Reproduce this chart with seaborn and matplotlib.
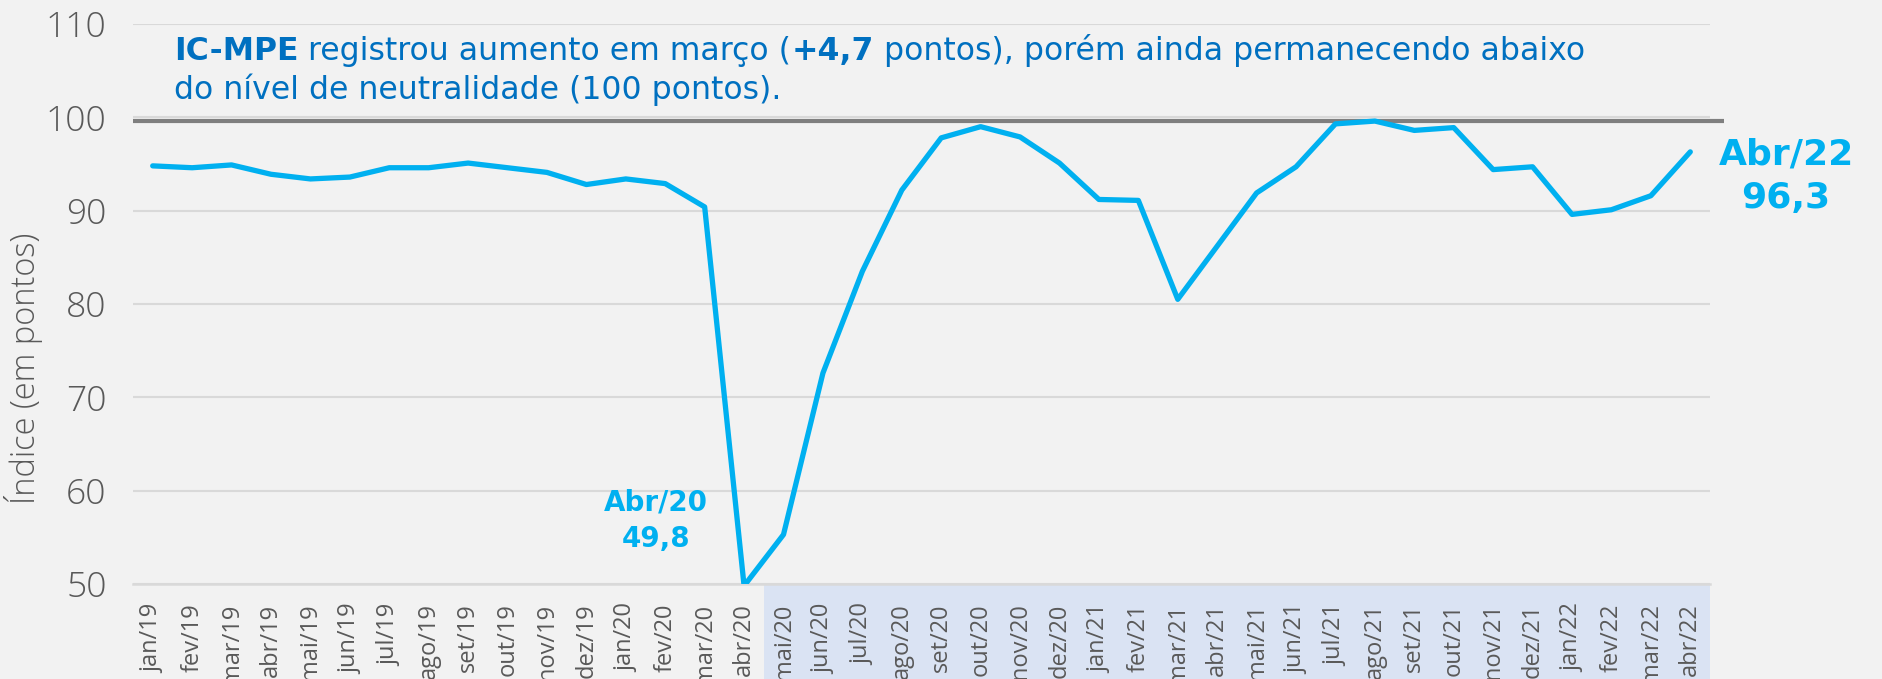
import matplotlib
matplotlib.use("Agg")
import matplotlib.pyplot as plt
import matplotlib.transforms as mtransforms
from matplotlib.patches import Rectangle
import seaborn as sns
import pandas as pd
import numpy as np

# ---------------- data ----------------
months = ["jan/19", "fev/19", "mar/19", "abr/19", "mai/19", "jun/19", "jul/19", "ago/19",
          "set/19", "out/19", "nov/19", "dez/19", "jan/20", "fev/20", "mar/20", "abr/20",
          "mai/20", "jun/20", "jul/20", "ago/20", "set/20", "out/20", "nov/20", "dez/20",
          "jan/21", "fev/21", "mar/21", "abr/21", "mai/21", "jun/21", "jul/21", "ago/21",
          "set/21", "out/21", "nov/21", "dez/21", "jan/22", "fev/22", "mar/22", "abr/22"]
ic_mpe = [94.8, 94.6, 94.9, 93.9, 93.4, 93.6, 94.6, 94.6,
          95.1, 94.6, 94.1, 92.8, 93.4, 92.9, 90.4, 49.8,
          55.3, 72.6, 83.5, 92.2, 97.8, 99.0, 97.9, 95.1,
          91.2, 91.1, 80.5, 86.2, 91.9, 94.7, 99.3, 99.6,
          98.6, 98.9, 94.4, 94.7, 89.6, 90.1, 91.6, 96.3]
y_ticks = [50, 60, 70, 80, 90, 100, 110]
neutral_level = 99.6
highlight_start = "mai/20"
y_label = "Índice (em pontos)"
title_line1 = [("IC-MPE", "bold"), (" registrou aumento em março (", "normal"),
               ("+4,7", "bold"), (" pontos), porém ainda permanecendo abaixo", "normal")]
title_line2 = "do nível de neutralidade (100 pontos)."
ann_min = "Abr/20\n49,8"
ann_last = "Abr/22\n96,3"

# ---------------- style ----------------
BG = "#f2f2f2"
LINE = "#00b0f0"
GRID = "#d9d9d9"
TXT = "#595959"
TITLE = "#0070c0"
SHADE = "#dae3f3"
WIDE = ["DejaVu Sans"]

sns.set_theme(style="white")
plt.rcParams["font.family"] = ["Open Sans", "DejaVu Sans"]

W, H = 1882, 679
fig = plt.figure(figsize=(W / 100, H / 100), dpi=100, facecolor=BG)
ax = fig.add_axes([133 / W, 1 - 584 / H, (1710 - 133) / W, (584 - 24) / H])
ax.set_facecolor(BG)

df = pd.DataFrame({"x": np.arange(len(months)), "v": ic_mpe})
sns.lineplot(data=df, x="x", y="v", ax=ax, color=LINE, linewidth=3.8,
             solid_capstyle="round", zorder=5)

ax.set_xlim(-0.5, len(months) - 0.5)
ax.set_ylim(min(y_ticks), max(y_ticks))
ax.set_yticks(y_ticks)
ax.set_yticklabels([str(t) for t in y_ticks], fontsize=25.5, color=TXT, fontweight="light")
ax.tick_params(axis="y", length=0, pad=19)

ax.set_xticks(np.arange(len(months)))
ax.set_xticklabels(months, rotation=90, fontsize=17, color=TXT, va="top")
ax.set_xticks(np.arange(len(months) + 1) - 0.5, minor=True)
ax.tick_params(axis="x", which="major", length=0, pad=14)
ax.tick_params(axis="x", which="minor", length=8, width=1.2, color=GRID)

ax.yaxis.grid(True, color=GRID, linewidth=1.5)
ax.xaxis.grid(False)
for s in ["top", "right", "left"]:
    ax.spines[s].set_visible(False)
ax.spines["bottom"].set_color(GRID)
ax.spines["bottom"].set_linewidth(1.8)
ax.spines["bottom"].set_zorder(1)

ax.set_xlabel("")
ax.set_ylabel(y_label, fontsize=23.5, color=TXT, fontweight="light")
ax.yaxis.set_label_coords(-0.057, 0.386)

# neutral line extending slightly past the axes
ax.plot([-0.5, len(months) - 0.15], [neutral_level, neutral_level], color="#7f7f7f",
        linewidth=3, clip_on=False, zorder=4, solid_capstyle="butt")

# shaded band under the axis for the highlighted period
trans = mtransforms.blended_transform_factory(ax.transData, ax.transAxes)
i0 = months.index(highlight_start) - 0.5
ax.add_patch(Rectangle((i0, 0), len(months) - 0.5 - i0, -0.2, transform=trans,
                       facecolor=SHADE, edgecolor="none", clip_on=False, zorder=0))

# annotations
ax.text(12.77, 56.8, ann_min, ha="center", va="center", fontsize=20, fontweight="bold",
        color=LINE, linespacing=1.4, family=WIDE)
fig.text(1786 / W, 1 - 176 / H, ann_last, ha="center", va="center", fontsize=26,
         fontweight="bold", color=LINE, linespacing=1.35, family=WIDE)

# title with mixed weights
renderer = fig.canvas.get_renderer()
x_px = 174
y1 = 1 - 60 / H
for txt, wt in title_line1:
    t = fig.text(x_px / W, y1, txt, ha="left", va="baseline", fontsize=22.7,
                 fontweight=wt, color=TITLE, family=WIDE)
    bb = t.get_window_extent(renderer=renderer)
    x_px += bb.width
fig.text(174 / W, 1 - 99 / H, title_line2, ha="left", va="baseline", fontsize=22.7,
         color=TITLE, family=WIDE)

fig.savefig("out.png", dpi=100, facecolor=BG)
